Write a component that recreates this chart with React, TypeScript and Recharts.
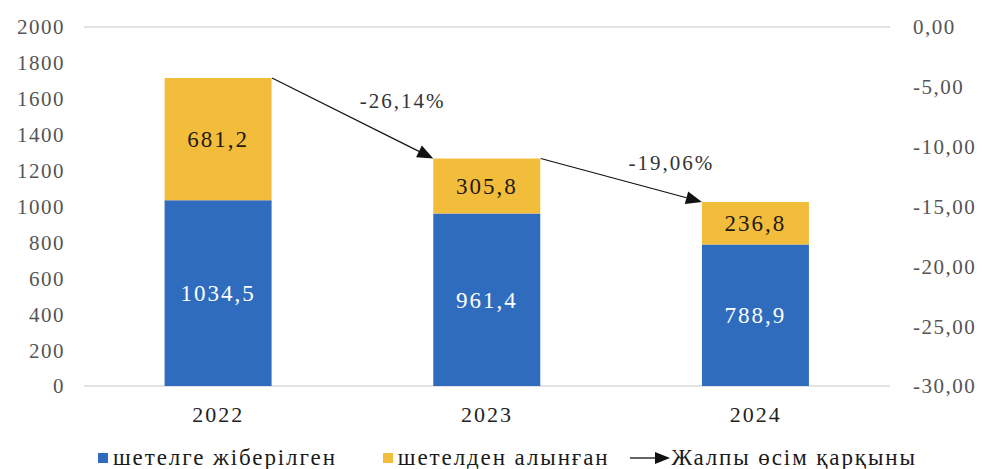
import React from 'react'
import {
  ComposedChart,
  Bar,
  Line,
  XAxis,
  YAxis,
  CartesianGrid,
  Legend,
  LabelList,
  ReferenceLine,
} from 'recharts'

const years = ['2022', '2023', '2024']
const sent = [1034.5, 961.4, 788.9]
const received = [681.2, 305.8, 236.8]
const growth = [null, -26.14, -19.06]
const growthLabels = ['-26,14%', '-19,06%']

const leftTicks = [0, 200, 400, 600, 800, 1000, 1200, 1400, 1600, 1800, 2000]
const rightTicks = [-30, -25, -20, -15, -10, -5, 0]

const seriesNames = ['шетелге жіберілген', 'шетелден алынған', 'Жалпы өсім қарқыны']

const BLUE = '#2f6cbd'
const YELLOW = '#f3bd3c'
const FONT = 'Liberation Serif, Times New Roman, serif'
const BAR_FRAC = 0.4

const data = years.map((y, i) => ({ year: y, sent: sent[i], received: received[i], growth: growth[i] }))

const fmt = (v: number) => String(v).replace('.', ',')
const fmtRight = (v: number) => v.toFixed(2).replace('.', ',')

// arrows from the top of one stack to the top of the next
const arrows = years.slice(0, -1).map((y, i) => ({
  from: { x: y, y: sent[i] + received[i] },
  to: { x: years[i + 1], y: sent[i + 1] + received[i + 1] },
  label: growthLabels[i],
}))

const ArrowShape = (label: string) => (props: any) => {
  const band = props.x2 - props.x1
  const x1 = props.x1 + (band * BAR_FRAC) / 2
  const x2 = props.x2 - (band * BAR_FRAC) / 2
  const { y1, y2 } = props
  const ang = Math.atan2(y2 - y1, x2 - x1)
  const len = 16
  const w = 6.5
  const bx = x2 - len * Math.cos(ang)
  const by = y2 - len * Math.sin(ang)
  const px = -Math.sin(ang) * w
  const py = Math.cos(ang) * w
  const mx = (x1 + x2) / 2
  const my = (y1 + y2) / 2
  return (
    <g>
      <line x1={x1} y1={y1} x2={bx} y2={by} stroke="#111" strokeWidth={1.2} />
      <polygon points={`${x2},${y2} ${bx + px},${by + py} ${bx - px},${by - py}`} fill="#111" />
      <text
        x={mx + 50}
        y={my - 17}
        textAnchor="middle"
        dominantBaseline="central"
        fontFamily={FONT}
        fontSize={21}
        letterSpacing={2}
        fill="#333"
      >
        {label}
      </text>
    </g>
  )
}

const LegendContent = () => (
  <div
    style={{
      display: 'flex',
      justifyContent: 'flex-start',
      alignItems: 'center',
      fontFamily: FONT,
      fontSize: 23,
      letterSpacing: 1.9,
      color: '#1a1a1a',
      paddingLeft: 80,
      paddingTop: 2,
      height: 22,
      lineHeight: '22px',
      whiteSpace: 'nowrap',
    }}
  >
    <span style={{ display: 'flex', alignItems: 'center' }}>
      <span style={{ width: 10, height: 10, background: BLUE, marginRight: 5 }} />
      {seriesNames[0]}
    </span>
    <span style={{ display: 'flex', alignItems: 'center', marginLeft: 46 }}>
      <span style={{ width: 10, height: 10, background: YELLOW, marginRight: 5 }} />
      {seriesNames[1]}
    </span>
    <span style={{ display: 'flex', alignItems: 'center', marginLeft: 20 }}>
      <svg width={41} height={14} style={{ marginRight: 1 }}>
        <line x1={0} y1={7} x2={26} y2={7} stroke="#111" strokeWidth={1.3} />
        <polygon points="40,7 25,1 25,13" fill="#111" />
      </svg>
      {seriesNames[2]}
    </span>
  </div>
)

export default function App() {
  return (
    <ComposedChart
      width={975}
      height={461}
      data={data}
      margin={{ top: 19, right: 20, bottom: 0, left: 10 }}
      barCategoryGap="30%"
    >
      <CartesianGrid vertical={false} stroke="#d9d9d9" strokeWidth={1.3} />
      <XAxis
        dataKey="year"
        axisLine={false}
        tickLine={false}
        tick={{ fontFamily: FONT, fontSize: 22, fill: '#222', letterSpacing: 2 }}
        tickMargin={14}
        height={59}
      />
      <YAxis
        yAxisId="left"
        domain={[0, 2000]}
        ticks={leftTicks}
        interval={0}
        axisLine={false}
        tickLine={false}
        width={66}
        tickMargin={13}
        tick={{ fontFamily: FONT, fontSize: 21, fill: '#555', letterSpacing: 1.5 }}
      />
      <YAxis
        yAxisId="right"
        orientation="right"
        domain={[-30, 0]}
        ticks={rightTicks}
        interval={0}
        allowDataOverflow
        axisLine={false}
        tickLine={false}
        width={73}
        tickMargin={17}
        tickFormatter={fmtRight}
        tick={{ fontFamily: FONT, fontSize: 21, fill: '#555', textAnchor: 'start', letterSpacing: 1.5 }}
      />
      <Bar dataKey="sent" stackId="a" yAxisId="left" fill={BLUE} isAnimationActive={false}>
        <LabelList
          dataKey="sent"
          position="center"
          formatter={(v: any) => fmt(v)}
          style={{ fontFamily: FONT, fontSize: 23, fill: '#fff', letterSpacing: 2 }}
        />
      </Bar>
      <Bar dataKey="received" stackId="a" yAxisId="left" fill={YELLOW} isAnimationActive={false}>
        <LabelList
          dataKey="received"
          position="center"
          formatter={(v: any) => fmt(v)}
          style={{ fontFamily: FONT, fontSize: 23, fill: '#1f1a10', letterSpacing: 2 }}
        />
      </Bar>
      <Line
        dataKey="growth"
        yAxisId="right"
        stroke="none"
        dot={false}
        activeDot={false}
        isAnimationActive={false}
      />
      {arrows.map((a, i) => (
        <ReferenceLine
          key={i}
          yAxisId="left"
          segment={[a.from, a.to]}
          shape={ArrowShape(a.label)}
        />
      ))}
      <Legend verticalAlign="bottom" content={LegendContent} />
    </ComposedChart>
  )
}
